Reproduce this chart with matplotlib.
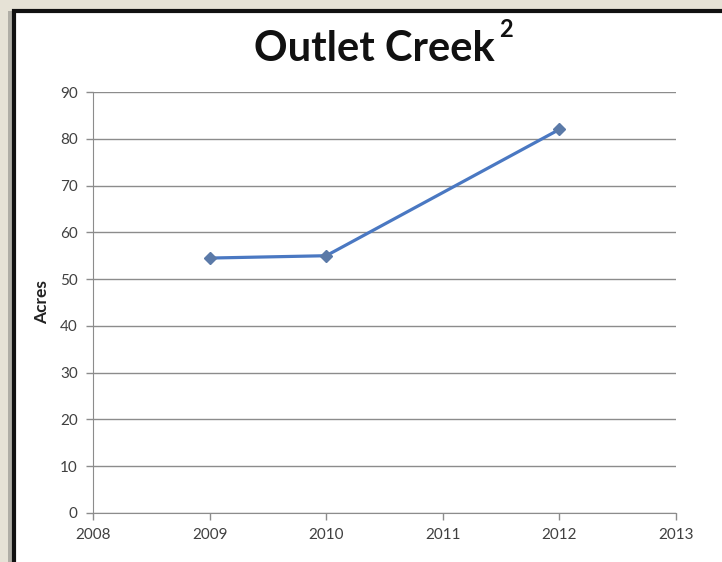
import matplotlib
matplotlib.use("Agg")
import matplotlib.pyplot as plt
from matplotlib.patches import Rectangle

# data
years = [2009, 2010, 2012]
acres = [54.5, 55, 82]
x_ticks = [2008, 2009, 2010, 2011, 2012, 2013]
y_ticks = list(range(0, 100, 10))

plt.rcParams['font.family'] = ['Lato', 'DejaVu Sans']

fig = plt.figure(figsize=(7.22, 5.62), dpi=100)
fig.patch.set_facecolor('#e6e2d6')

# white panel with dark frame
fig.patches.append(Rectangle((8 / 722, -0.05), 1.0, 1.03, transform=fig.transFigure,
                             facecolor='#b0aea6', edgecolor='none', zorder=-2))
fig.patches.append(Rectangle((14 / 722, -0.05), 1.0, 1 - 11 / 562 + 0.05, transform=fig.transFigure,
                             facecolor='white', edgecolor='#111111', linewidth=3, zorder=-1))

ax = fig.add_axes([93 / 722, 49 / 562, 583 / 722, 421 / 562])
ax.set_zorder(2)
ax.set_facecolor('none')

ax.plot(years, acres, color='#4a78c2', linewidth=2.3, marker='D', markersize=6.5,
        markerfacecolor='#5b7aa8', markeredgecolor='#5b7aa8', zorder=3)

ax.set_xlim(2008, 2013)
ax.set_ylim(0, 90)
ax.set_xticks(x_ticks)
ax.set_yticks(y_ticks)
ax.grid(axis='y', color='#8c8c8c', linewidth=1)
ax.set_axisbelow(True)
for s in ['top', 'right']:
    ax.spines[s].set_visible(False)
for s in ['left', 'bottom']:
    ax.spines[s].set_color('#8c8c8c')
ax.tick_params(colors='#8c8c8c', labelcolor='#404040', labelsize=11, length=5, width=1)
ax.tick_params(axis='x', pad=6)
ax.tick_params(axis='y', pad=6)

ax.set_ylabel('Acres', fontsize=12.5, fontweight='bold', color='#222222', labelpad=7)

fig.text(0.519, 0.912, 'Outlet Creek', ha='center', va='center', fontsize=30,
         fontweight='bold', color='#111111')
fig.text(0.692, 0.948, '2', ha='left', va='center', fontsize=17,
         fontweight='bold', color='#111111')

fig.savefig('out.png', dpi=100, facecolor=fig.get_facecolor())
